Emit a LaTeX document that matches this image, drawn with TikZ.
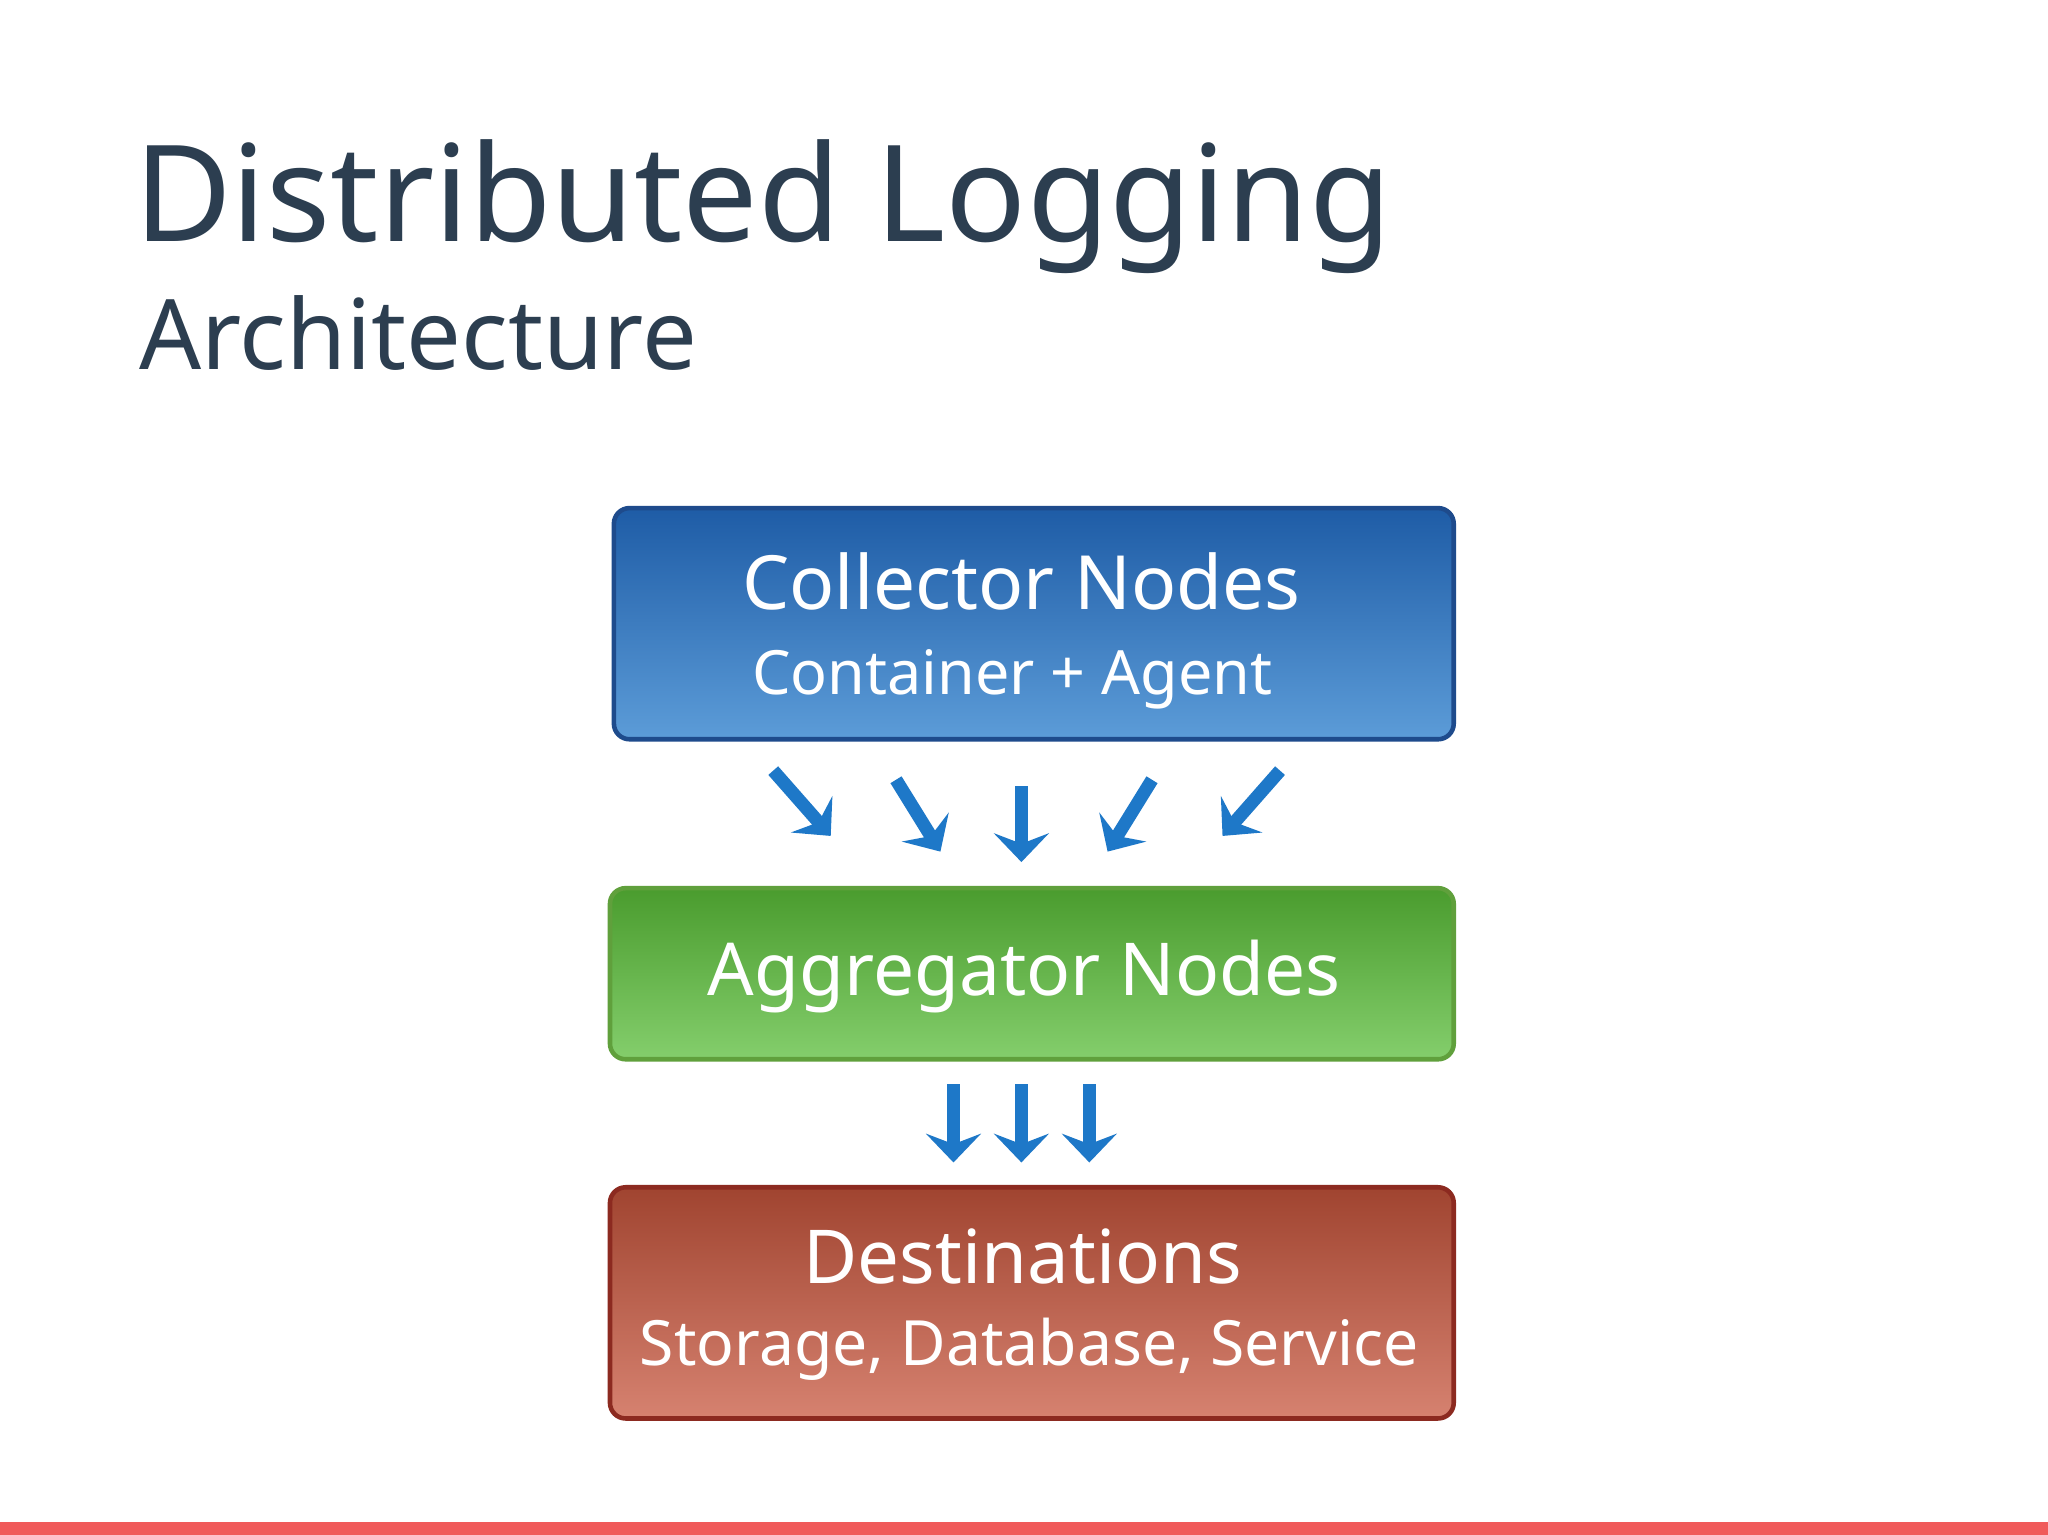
\documentclass[tikz,border=0pt]{standalone}
\usepackage{fontspec}
\setmainfont{Noto Sans}
\usetikzlibrary{arrows.meta}
\definecolor{ttl}{HTML}{2C3E50}
\definecolor{arr}{HTML}{1E78C8}
\definecolor{barc}{HTML}{F05A5A}
\tikzset{
  pbox/.style={rounded corners=0.12cm, line width=0.035cm, minimum width=6.43cm, text=white, align=center, inner sep=0pt},
  farrow/.style={arr, line width=0.1cm, -{Stealth[length=0.22cm, width=0.42cm, inset=0.08cm]}}
}
\begin{document}
\begin{tikzpicture}[x=1cm,y=-1cm]
\useasboundingbox (0,0) rectangle (15.68,11.75);
\fill[white] (0,0) rectangle (15.68,11.75);
\fill[barc] (0,11.65) rectangle (15.68,11.75);
\node[anchor=base west, text=ttl, font=\fontsize{29.2}{34}\selectfont, inner sep=0pt] (title) at (1.02,1.85) {Distributed Logging};
\node[anchor=base west, text=ttl, font=\fontsize{21.2}{25}\selectfont, inner sep=0pt] (sub) at (1.06,2.83) {Architecture};
\node[pbox, minimum height=1.77cm, draw={rgb,255:red,30;green,75;blue,140}, top color={rgb,255:red,30;green,92;blue,166}, bottom color={rgb,255:red,92;green,156;blue,216}] (col) at (7.915,4.775) {};
\node[text=white, font=\fontsize{16.3}{20}\selectfont] (colt) at (7.82,4.45) {Collector Nodes};
\node[text=white, font=\fontsize{13.3}{16}\selectfont] (cols) at (7.75,5.2) {Container + Agent};
\node[pbox, minimum width=6.46cm, minimum height=1.31cm, draw={rgb,255:red,96;green,160;blue,60}, top color={rgb,255:red,74;green,156;blue,46}, bottom color={rgb,255:red,132;green,206;blue,108}] (agg) at (7.9,7.455) {};
\node[text=white, font=\fontsize{15.9}{19}\selectfont] (aggt) at (7.84,7.48) {Aggregator Nodes};
\node[pbox, minimum width=6.46cm, minimum height=1.77cm, draw={rgb,255:red,140;green,42;blue,32}, top color={rgb,255:red,160;green,68;blue,48}, bottom color={rgb,255:red,214;green,130;blue,112}] (dst) at (7.9,9.975) {};
\node[text=white, font=\fontsize{16.2}{20}\selectfont] (dstt) at (7.83,9.62) {Destinations};
\node[text=white, font=\fontsize{13.6}{17}\selectfont] (dsts) at (7.88,10.33) {Storage, Database, Service};
% arrows
\coordinate (a1s) at (5.92,5.9); \coordinate (a1e) at (6.36,6.4);
\coordinate (a2s) at (6.86,5.97); \coordinate (a2e) at (7.2,6.52);
\coordinate (a3s) at (7.82,6.02); \coordinate (a3e) at (7.82,6.6);
\coordinate (a4s) at (8.82,5.97); \coordinate (a4e) at (8.48,6.52);
\coordinate (a5s) at (9.8,5.9); \coordinate (a5e) at (9.36,6.4);
\foreach \i in {1,...,5} \draw[farrow] (a\i s) -- (a\i e);
\foreach \i/\x in {1/7.3,2/7.82,3/8.34} {
  \coordinate (b\i s) at (\x,8.3); \coordinate (b\i e) at (\x,8.9);
  \draw[farrow] (b\i s) -- (b\i e);
}
\end{tikzpicture}
\end{document}
